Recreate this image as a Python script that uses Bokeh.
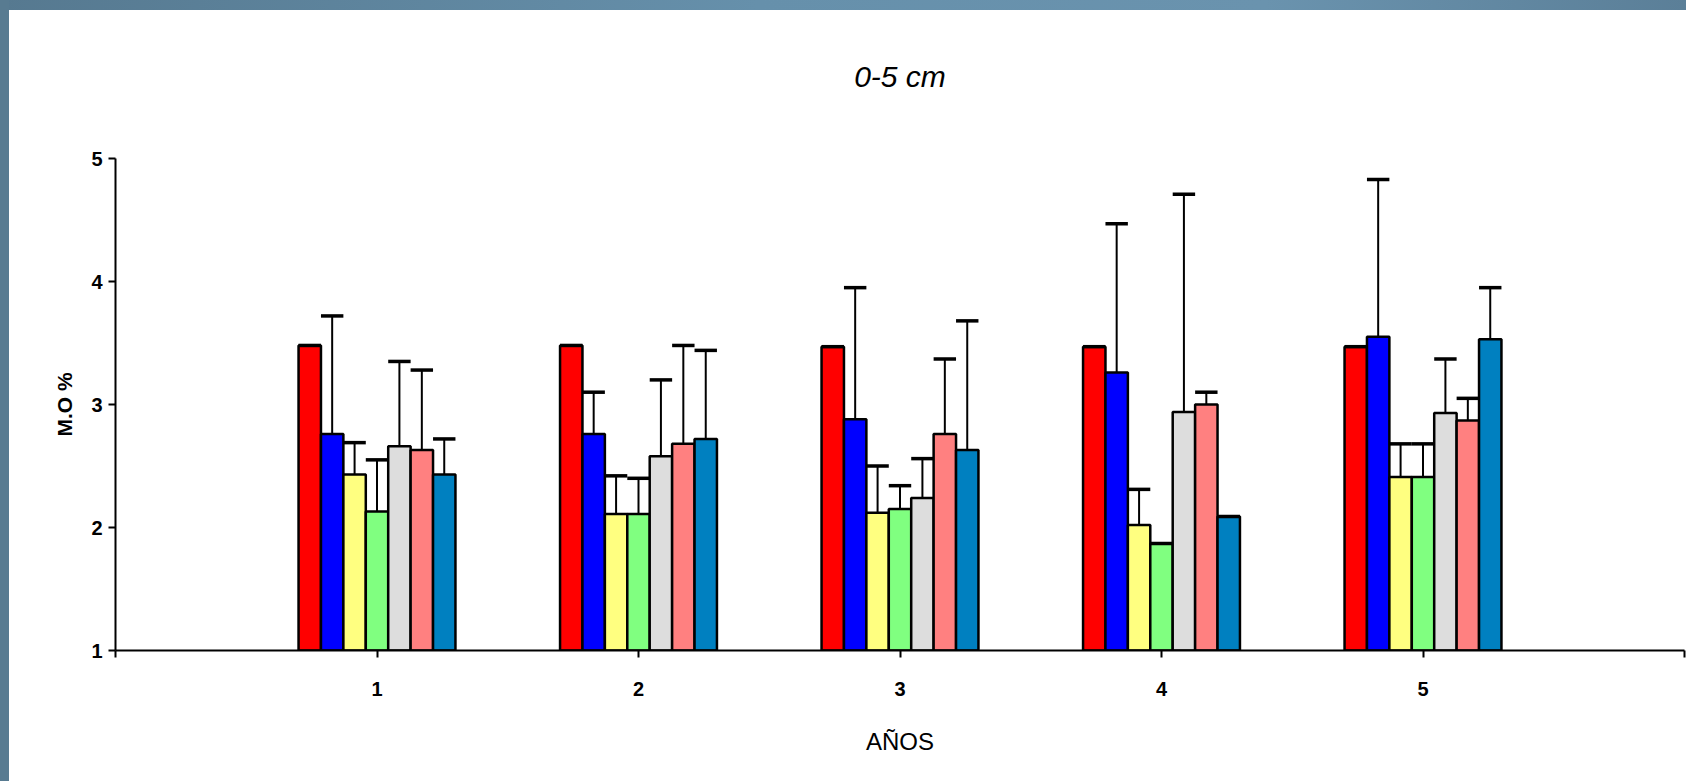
from bokeh.plotting import figure
from bokeh.models import FixedTicker, GlobalInlineStyleSheet, ColumnDataSource, Title
from bokeh.embed import file_html
from bokeh.resources import INLINE

# ---- data -------------------------------------------------------------
years = [1, 2, 3, 4, 5]
year_labels = ["1", "2", "3", "4", "5"]

red_mean    = [3.48, 3.48, 3.47, 3.47, 3.47]
red_err     = [0.00, 0.00, 0.00, 0.00, 0.00]
blue_mean   = [2.76, 2.76, 2.88, 3.26, 3.55]
blue_err    = [0.96, 0.34, 1.07, 1.21, 1.28]
yellow_mean = [2.43, 2.11, 2.12, 2.02, 2.41]
yellow_err  = [0.26, 0.31, 0.38, 0.29, 0.27]
green_mean  = [2.13, 2.11, 2.15, 1.87, 2.41]
green_err   = [0.42, 0.29, 0.19, 0.00, 0.27]
gray_mean   = [2.66, 2.58, 2.24, 2.94, 2.93]
gray_err    = [0.69, 0.62, 0.32, 1.77, 0.44]
salmon_mean = [2.63, 2.68, 2.76, 3.00, 2.87]
salmon_err  = [0.65, 0.80, 0.61, 0.10, 0.18]
steel_mean  = [2.43, 2.72, 2.63, 2.09, 3.53]
steel_err   = [0.29, 0.72, 1.05, 0.00, 0.42]

means = [red_mean, blue_mean, yellow_mean, green_mean, gray_mean, salmon_mean, steel_mean]
errs = [red_err, blue_err, yellow_err, green_err, gray_err, salmon_err, steel_err]
colors = ["#FF0000", "#0000FF", "#FFFF80", "#80FF80", "#DDDDDD", "#FF8080", "#0080C0"]

title_text = "0-5 cm"
x_label = "AÑOS"
y_label = "M.O %"

# ---- page style (blue-grey frame strips) --------------------------------
css = """
html { background: #ffffff; overflow: hidden; }
body { margin: 0; padding: 10px 0 0 9px; background: #ffffff; }
body::before { content: ""; position: fixed; left: 0; top: 0; width: 100%; height: 10px;
    background: linear-gradient(to right, #567990 0%, #6690ab 45%, #6a93ae 75%, #5b7f98 100%);
    z-index: 10; }
body::after { content: ""; position: fixed; left: 0; top: 0; width: 9px; height: 100%;
    background: #587b91; z-index: 10; }
"""

font = "'Liberation Sans', Arial, sans-serif"

p = figure(width=1677, height=770, x_range=(0, 6), y_range=(1, 5),
           output_backend="svg", toolbar_location=None,
           min_border_left=106, min_border_right=2,
           min_border_top=148, min_border_bottom=130,
           title=None)
p.stylesheets = [GlobalInlineStyleSheet(css=css)]
p.outline_line_color = None
p.grid.visible = False
p.background_fill_color = "white"
p.border_fill_color = "white"

# spacer between the frame and the title, then the title itself
p.add_layout(Title(text=" ", text_font_size="2px", standoff=62), "above")
p.add_layout(Title(text=title_text, align="center", text_font=font,
                   text_font_style="italic", text_font_size="30px",
                   text_color="black", standoff=0), "above")

n = len(means)
bw = 0.6 / n

for i, (m, c) in enumerate(zip(means, colors)):
    off = (i - (n - 1) / 2) * bw
    xs = [y + off for y in years]
    src = ColumnDataSource(dict(x=xs, top=m))
    p.vbar(x="x", top="top", bottom=1, width=bw, fill_color=c,
           line_color="black", line_width=2.5, source=src)

for i, (m, e) in enumerate(zip(means, errs)):
    off = (i - (n - 1) / 2) * bw
    xs = [y + off for y in years]
    etop = [a + b for a, b in zip(m, e)]
    src = ColumnDataSource(dict(x=xs, top=m, etop=etop,
                                cx0=[x - bw / 2 for x in xs],
                                cx1=[x + bw / 2 for x in xs]))
    p.segment(x0="x", y0="top", x1="x", y1="etop", line_color="black",
              line_width=2, source=src)
    p.segment(x0="cx0", y0="etop", x1="cx1", y1="etop", line_color="black",
              line_width=3.5, source=src)

# ---- axes ---------------------------------------------------------------
p.xaxis.ticker = FixedTicker(ticks=[0] + years + [6])
overrides = {0: "", 6: ""}
overrides.update({y: l for y, l in zip(years, year_labels)})
p.xaxis.major_label_overrides = overrides
p.yaxis.ticker = FixedTicker(ticks=[1, 2, 3, 4, 5])

for ax in (p.xaxis[0], p.yaxis[0]):
    ax.axis_line_width = 2
    ax.axis_line_color = "black"
    ax.major_tick_line_width = 2
    ax.major_tick_line_color = "black"
    ax.major_tick_out = 7
    ax.major_tick_in = 0
    ax.minor_tick_line_color = None
    ax.major_label_text_font = font
    ax.major_label_text_font_size = "20px"
    ax.major_label_text_font_style = "bold"
    ax.major_label_text_color = "black"
    ax.axis_label_text_font = font
    ax.axis_label_text_color = "black"

p.xaxis.major_label_standoff = 24
p.yaxis.major_label_standoff = 6

p.xaxis.axis_label = x_label
p.xaxis.axis_label_text_font_size = "24px"
p.xaxis.axis_label_text_font_style = "normal"
p.xaxis.axis_label_standoff = 29

p.yaxis.axis_label = y_label
p.yaxis.axis_label_text_font_size = "21px"
p.yaxis.axis_label_text_font_style = "bold"
p.yaxis.axis_label_text_align = "right"
p.yaxis.axis_label_standoff = 12

open("out.html", "w").write(file_html(p, INLINE))
